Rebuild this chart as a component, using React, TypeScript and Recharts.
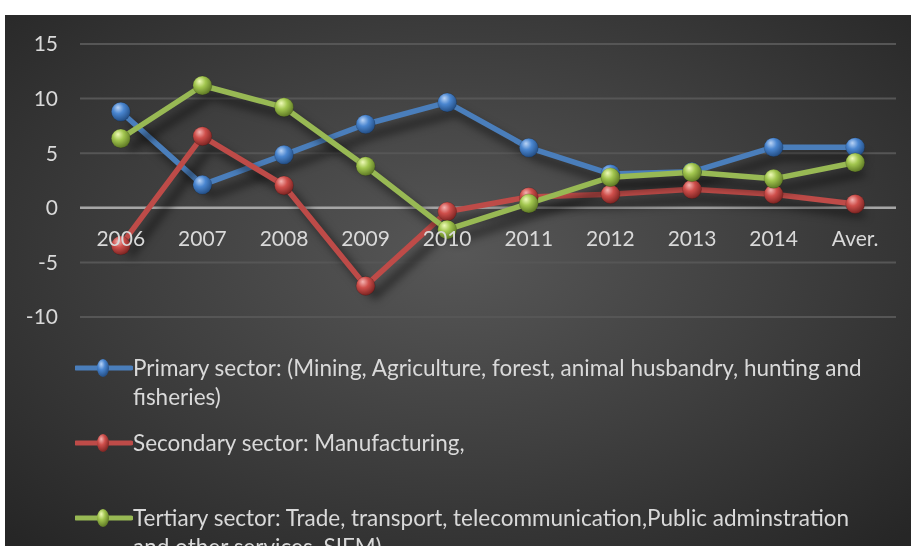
import React from "react";
import { LineChart, Line, XAxis, YAxis, CartesianGrid, ReferenceLine, Legend } from "recharts";

const categories = ["2006", "2007", "2008", "2009", "2010", "2011", "2012", "2013", "2014", "Aver."];
const primary = [8.8, 2.1, 4.85, 7.65, 9.65, 5.5, 3.1, 3.3, 5.55, 5.55];
const secondary = [-3.45, 6.55, 2.05, -7.15, -0.35, 1.0, 1.25, 1.7, 1.25, 0.35];
const tertiary = [6.35, 11.2, 9.2, 3.8, -2.0, 0.4, 2.8, 3.25, 2.65, 4.15];
const yTicks = [-10, -5, 0, 5, 10, 15];

const seriesNames = {
  primary: "Primary sector: (Mining, Agriculture, forest, animal husbandry, hunting and fisheries)",
  secondary: "Secondary sector: Manufacturing,",
  tertiary: "Tertiary sector: Trade, transport, telecommunication,Public adminstration and other services, SIFM)",
};

const colors = { primary: "#4a7ebb", secondary: "#be4b48", tertiary: "#98b954" };

const data = categories.map((c, i) => ({
  year: c,
  primary: primary[i],
  secondary: secondary[i],
  tertiary: tertiary[i],
}));

const FONT = "Lato, 'Open Sans', sans-serif";
const TEXT = "#d9d9d9";

const makeDot = (id: string) => (props: any) => {
  const { cx, cy, index } = props;
  if (cx == null || cy == null) return <g key={`d-${id}-${index}`} />;
  return (
    <circle key={`d-${id}-${index}`} cx={cx} cy={cy} r={9.5} fill={`url(#${id})`} stroke="rgba(0,0,0,0.25)" strokeWidth={0.6} />
  );
};

const XTick = (props: any) => {
  const { x, y, payload } = props;
  return (
    <text x={x} y={y - 71.5} textAnchor="middle" fill={TEXT} fontFamily={FONT} fontSize={21}>
      {payload.value}
    </text>
  );
};

const gradIds: Record<string, string> = { primary: "gBlue", secondary: "gRed", tertiary: "gGreen" };

const LegendContent = (props: any) => {
  const { payload } = props;
  return (
    <div style={{ fontFamily: FONT, color: TEXT, fontSize: 22.5 }}>
      {(payload || []).map((p: any) => (
        <div key={p.dataKey} style={{ display: "flex", alignItems: "flex-start", height: 75 }}>
          <svg width={58} height={29} style={{ flex: "none" }}>
            <line x1={1} y1={15} x2={56} y2={15} stroke={p.color} strokeWidth={5} strokeLinecap="round" />
            <ellipse cx={28} cy={15} rx={6} ry={9} fill={`url(#${gradIds[p.dataKey]})`} />
          </svg>
          <div style={{ width: 748, lineHeight: "29px", minHeight: 58 }}>{p.value}</div>
        </div>
      ))}
    </div>
  );
};

const Grad = ({ id, c1, c2, c3 }: { id: string; c1: string; c2: string; c3: string }) => (
  <radialGradient id={id} cx="40%" cy="35%" r="65%" fx="35%" fy="28%">
    <stop offset="0%" stopColor={c1} />
    <stop offset="45%" stopColor={c2} />
    <stop offset="100%" stopColor={c3} />
  </radialGradient>
);

export default function App() {
  return (
    <>
      <style>{`
        .recharts-line { filter: drop-shadow(9px 10px 5px rgba(0,0,0,0.65)); }
      `}</style>
      <svg width={0} height={0} style={{ position: "absolute" }}>
        <defs>
          <Grad id="gBlue" c1="#b9d3f5" c2="#4a86d0" c3="#244f86" />
          <Grad id="gRed" c1="#f3b3b1" c2="#cf4f4b" c3="#7e2523" />
          <Grad id="gGreen" c1="#eefab8" c2="#a2c64f" c3="#5f7a25" />
        </defs>
      </svg>
      <div
        style={{
          position: "fixed",
          left: 5,
          top: 15,
          width: 906,
          height: 531,
          overflow: "hidden",
          background: "radial-gradient(ellipse 70% 75% at 50% 45%, #575757 0%, #3f3f3f 50%, #262626 100%)",
        }}
      >
        <LineChart width={906} height={560} data={data} margin={{ top: 29, right: 15, bottom: 228, left: 0 }}>
          <CartesianGrid horizontal vertical={false} stroke="#565656" strokeWidth={2} />
          <XAxis
            dataKey="year"
            axisLine={false}
            tickLine={false}
            tickSize={0}
            tickMargin={0}
            height={30}
            interval={0}
            padding={{ left: 40.8, right: 40.8 }}
            tick={<XTick />}
          />
          <YAxis
            domain={[-10, 15]}
            ticks={yTicks}
            width={75}
            axisLine={false}
            tickLine={false}
            tickSize={6}
            tickMargin={16}
            tick={{ fill: TEXT, fontFamily: FONT, fontSize: 21 }}
          />
          <ReferenceLine y={0} stroke="#a6a6a6" strokeWidth={2.5} />
          <Legend
            layout="vertical"
            align="center"
            verticalAlign="middle"
            wrapperStyle={{ top: 338, left: 70, width: 820 }}
            content={<LegendContent />}
          />
          <Line
            type="linear"
            dataKey="primary"
            name={seriesNames.primary}
            stroke={colors.primary}
            strokeWidth={5.5}
            strokeLinejoin="round"
            dot={makeDot("gBlue")}
            activeDot={false}
            isAnimationActive={false}
          />
          <Line
            type="linear"
            dataKey="secondary"
            name={seriesNames.secondary}
            stroke={colors.secondary}
            strokeWidth={5.5}
            strokeLinejoin="round"
            dot={makeDot("gRed")}
            activeDot={false}
            isAnimationActive={false}
          />
          <Line
            type="linear"
            dataKey="tertiary"
            name={seriesNames.tertiary}
            stroke={colors.tertiary}
            strokeWidth={5.5}
            strokeLinejoin="round"
            dot={makeDot("gGreen")}
            activeDot={false}
            isAnimationActive={false}
          />
        </LineChart>
      </div>
    </>
  );
}
